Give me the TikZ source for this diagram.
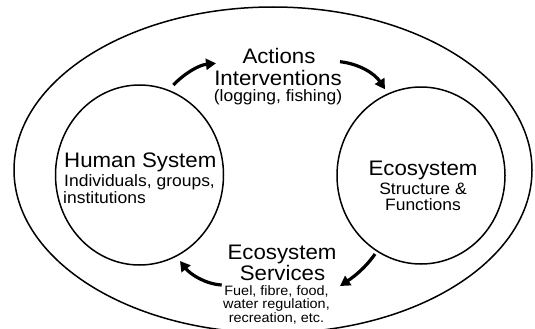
\documentclass[tikz,border=0pt]{standalone}
\usepackage{fontspec}
\setmainfont[FakeStretch=1.06]{Liberation Sans}
\usetikzlibrary{shapes.geometric,arrows.meta}
\begin{document}
\begin{tikzpicture}[x=1pt,y=-1pt,
  ring/.style={draw,ellipse,line width=1.5pt,inner sep=0pt},
  flow/.style={line width=3.2pt,-{Triangle[length=10pt,width=11pt]}},
  big/.style={inner sep=0pt,anchor=base,font=\fontsize{21}{22}\selectfont},
  mid/.style={inner sep=0pt,anchor=base,font=\fontsize{16.5}{17}\selectfont},
  small/.style={inner sep=0pt,anchor=base,font=\fontsize{13.6}{13}\selectfont}]
\useasboundingbox (0,0) rectangle (535,329);
% shapes
\node[ring,minimum width=518pt,minimum height=326pt] (outer) at (273,170) {};
\node[ring,minimum width=168pt,minimum height=180pt] (human) at (139.5,175) {};
\node[ring,minimum width=168pt,minimum height=177pt] (eco) at (421,175.5) {};
% human system text
\node[big,anchor=base west] (hs1) at (64,167.5) {Human System};
\node[mid,anchor=base west] (hs2) at (64,186) {Individuals, groups,};
\node[mid,anchor=base west] (hs3) at (63,203) {institutions};
% ecosystem text
\node[big] (ec1) at (423,175) {Ecosystem};
\node[mid] (ec2) at (423,194) {Structure \&};
\node[mid] (ec3) at (423,210) {Functions};
% actions text
\node[big] (ac1) at (279,63.3) {Actions};
\node[big] (ac2) at (278,85) {Interventions};
\node[mid] (ac3) at (278,101) {(logging, fishing)};
% services text
\node[big] (sv1) at (282,259.3) {Ecosystem};
\node[big] (sv2) at (282.5,280) {Services};
\node[small] (sv3) at (276.5,295) {Fuel, fibre, food,};
\node[small] (sv4) at (276.5,308.5) {water regulation,};
\node[small] (sv5) at (276.5,322.2) {recreation, etc.};
% arrow end points
\coordinate (a1s) at (173.3,85);
\coordinate (a1e) at (216,63.3);
\coordinate (a2s) at (340,61.7);
\coordinate (a2e) at (385,89.3);
\coordinate (a3s) at (375,254);
\coordinate (a3e) at (340,286);
\coordinate (a4s) at (221.7,285);
\coordinate (a4e) at (180,261);
\draw[flow] (a1s) .. controls (185,73) and (199,65) .. (a1e);
\draw[flow] (a2s) .. controls (360,64) and (375,74) .. (a2e);
\draw[flow] (a3s) .. controls (366,267) and (355,276) .. (a3e);
\draw[flow] (a4s) .. controls (205,284) and (190,274) .. (a4e);
\end{tikzpicture}
\end{document}
